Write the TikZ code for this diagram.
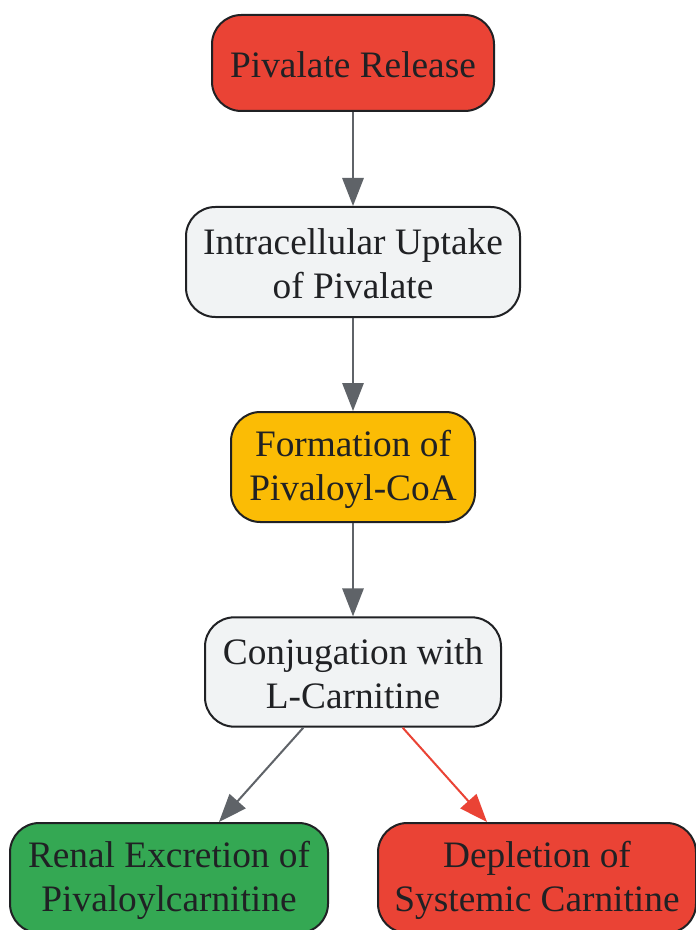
\documentclass[tikz,border=0pt]{standalone}
\usepackage{fontspec}
\setmainfont{Liberation Serif}
\usetikzlibrary{arrows.meta}
\definecolor{gred}{HTML}{EA4335}
\definecolor{ggray}{HTML}{F1F3F4}
\definecolor{gyellow}{HTML}{FBBC05}
\definecolor{ggreen}{HTML}{34A853}
\definecolor{gtext}{HTML}{202124}
\definecolor{garrow}{HTML}{5F6368}
\newcommand{\lowln}[1]{\raisebox{-1.6pt}[\height][\depth]{#1}}
\begin{document}
\begin{tikzpicture}[x=0.75pt,y=0.75pt,
  box/.style={draw=gtext,line width=1.5pt,rounded corners=22pt,inner sep=0pt,
    align=center,text=gtext,font=\fontsize{28}{33}\selectfont},
  conn/.style={draw=garrow,line width=1.5pt,-{Triangle[length=21pt,width=16pt]}},
  connred/.style={conn,draw=gred,-{Triangle[length=21pt,width=16pt]}}]
\useasboundingbox[fill=white] (0,0) rectangle (695,-930);
\node[box,fill=gred,minimum width=211.5pt,minimum height=72pt] (n1) at (353,-63) {\lowln{Pivalate Release}};
\node[box,fill=ggray,minimum width=250.5pt,minimum height=82.5pt] (n2) at (353,-262) {\lowln{Intracellular Uptake}\\\lowln{of Pivalate}};
\node[box,fill=gyellow,minimum width=183pt,minimum height=82.5pt] (n3) at (353,-467) {\lowln{Formation of}\\\lowln{Pivaloyl-CoA}};
\node[box,fill=ggray,minimum width=222pt,minimum height=82pt] (n4) at (353,-672) {\lowln{Conjugation with}\\\lowln{L-Carnitine}};
\node[box,fill=ggreen,minimum width=238.5pt,minimum height=82.5pt] (n5) at (169,-878) {\lowln{Renal Excretion of}\\\lowln{Pivaloylcarnitine}};
\node[box,fill=gred,minimum width=238.5pt,minimum height=82.5pt] (n6) at (537,-878) {\lowln{Depletion of}\\\lowln{Systemic Carnitine}};
\draw[conn] (n1) -- (n2);
\draw[conn] (n2) -- (n3);
\draw[conn] (n3) -- (n4);
\draw[conn] (n4) -- (n5);
\draw[connred] (n4) -- (n6);
\end{tikzpicture}
\end{document}
